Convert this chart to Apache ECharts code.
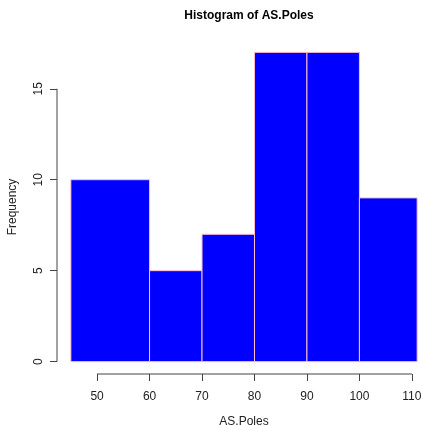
<!DOCTYPE html>
<html>
<head>
<meta charset="utf-8">
<script src="https://cdn.jsdelivr.net/npm/echarts@6/dist/echarts.min.js"></script>
<style>html,body{margin:0;padding:0;background:#fff;}#c{width:422px;height:425px;}</style>
</head>
<body>
<div id="c"></div>
<script>
// Data
var breaks = [45, 60, 70, 80, 90, 100, 111];
var counts = [10, 5, 7, 17, 17, 9];
var xTicks = [50, 60, 70, 80, 90, 100, 110];
var yTicks = [0, 5, 10, 15];
var titleText = 'Histogram of AS.Poles';
var xName = 'AS.Poles';
var yName = 'Frequency';

var bins = counts.map(function (c, i) { return [breaks[i], breaks[i + 1], c]; });
var xLo = breaks[0], xHi = breaks[breaks.length - 1];
var xPad = (xHi - xLo) * 0.04;
var yMax = Math.max.apply(null, counts);
var yPad = yMax * 0.04;
var xMin = xLo - xPad, xMax = xHi + xPad;
var yMin = -yPad, yMaxR = yMax + yPad;

var chart = echarts.init(document.getElementById('c'), null, {renderer: 'canvas'});
var font = 'Liberation Sans, Arial, Helvetica, sans-serif';
var axisColor = '#444';
chart.setOption({
  animation: false,
  backgroundColor: '#fff',
  title: {
    text: titleText, left: 244, top: 5, textAlign: 'center',
    textStyle: {fontFamily: font, fontSize: 12, fontWeight: 'bold', color: '#000'}
  },
  grid: {left: 57, top: 40, width: 374, height: 334, containLabel: false, outerBoundsMode: 'none'},
  xAxis: {
    type: 'value', min: xMin, max: xMax,
    splitLine: {show: false},
    axisLine: {show: false, onZero: false},
    axisTick: {show: true, length: 7, customValues: xTicks, lineStyle: {color: axisColor}},
    axisLabel: {customValues: xTicks, margin: 17, fontFamily: font, fontSize: 12, color: '#222'},
    name: xName, nameLocation: 'middle', nameGap: 42,
    nameTextStyle: {fontFamily: font, fontSize: 12, color: '#222'}
  },
  yAxis: {
    type: 'value', min: yMin, max: yMaxR,
    splitLine: {show: false},
    axisLine: {show: false, onZero: false},
    axisTick: {show: true, length: 7, customValues: yTicks, lineStyle: {color: axisColor}},
    axisLabel: {customValues: yTicks, rotate: 90, margin: 12, fontFamily: font, fontSize: 12, color: '#222'},
    name: yName, nameLocation: 'middle', nameGap: 38,
    nameTextStyle: {fontFamily: font, fontSize: 12, color: '#222'}
  },
  series: [
    {
      type: 'custom',
      clip: false,
      data: bins,
      renderItem: function (params, api) {
        var p0 = api.coord([api.value(0), api.value(2)]);
        var p1 = api.coord([api.value(1), 0]);
        return {
          type: 'rect',
          shape: {x: p0[0], y: p0[1], width: p1[0] - p0[0], height: p1[1] - p0[1]},
          style: {fill: '#0000ff', stroke: '#ffc0cb', lineWidth: 1}
        };
      }
    },
    {
      type: 'custom',
      clip: false,
      data: [[0]],
      silent: true,
      renderItem: function (params, api) {
        var a = api.coord([xTicks[0], yMin]);
        var b = api.coord([xTicks[xTicks.length - 1], yMin]);
        var c = api.coord([xMin, yTicks[0]]);
        var d = api.coord([xMin, yTicks[yTicks.length - 1]]);
        return {
          type: 'group',
          children: [
            {type: 'line', shape: {x1: a[0], y1: a[1], x2: b[0], y2: b[1]}, style: {stroke: axisColor, lineWidth: 1}},
            {type: 'line', shape: {x1: c[0], y1: c[1], x2: d[0], y2: d[1]}, style: {stroke: axisColor, lineWidth: 1}}
          ]
        };
      }
    }
  ]
});
</script>
</body>
</html>
